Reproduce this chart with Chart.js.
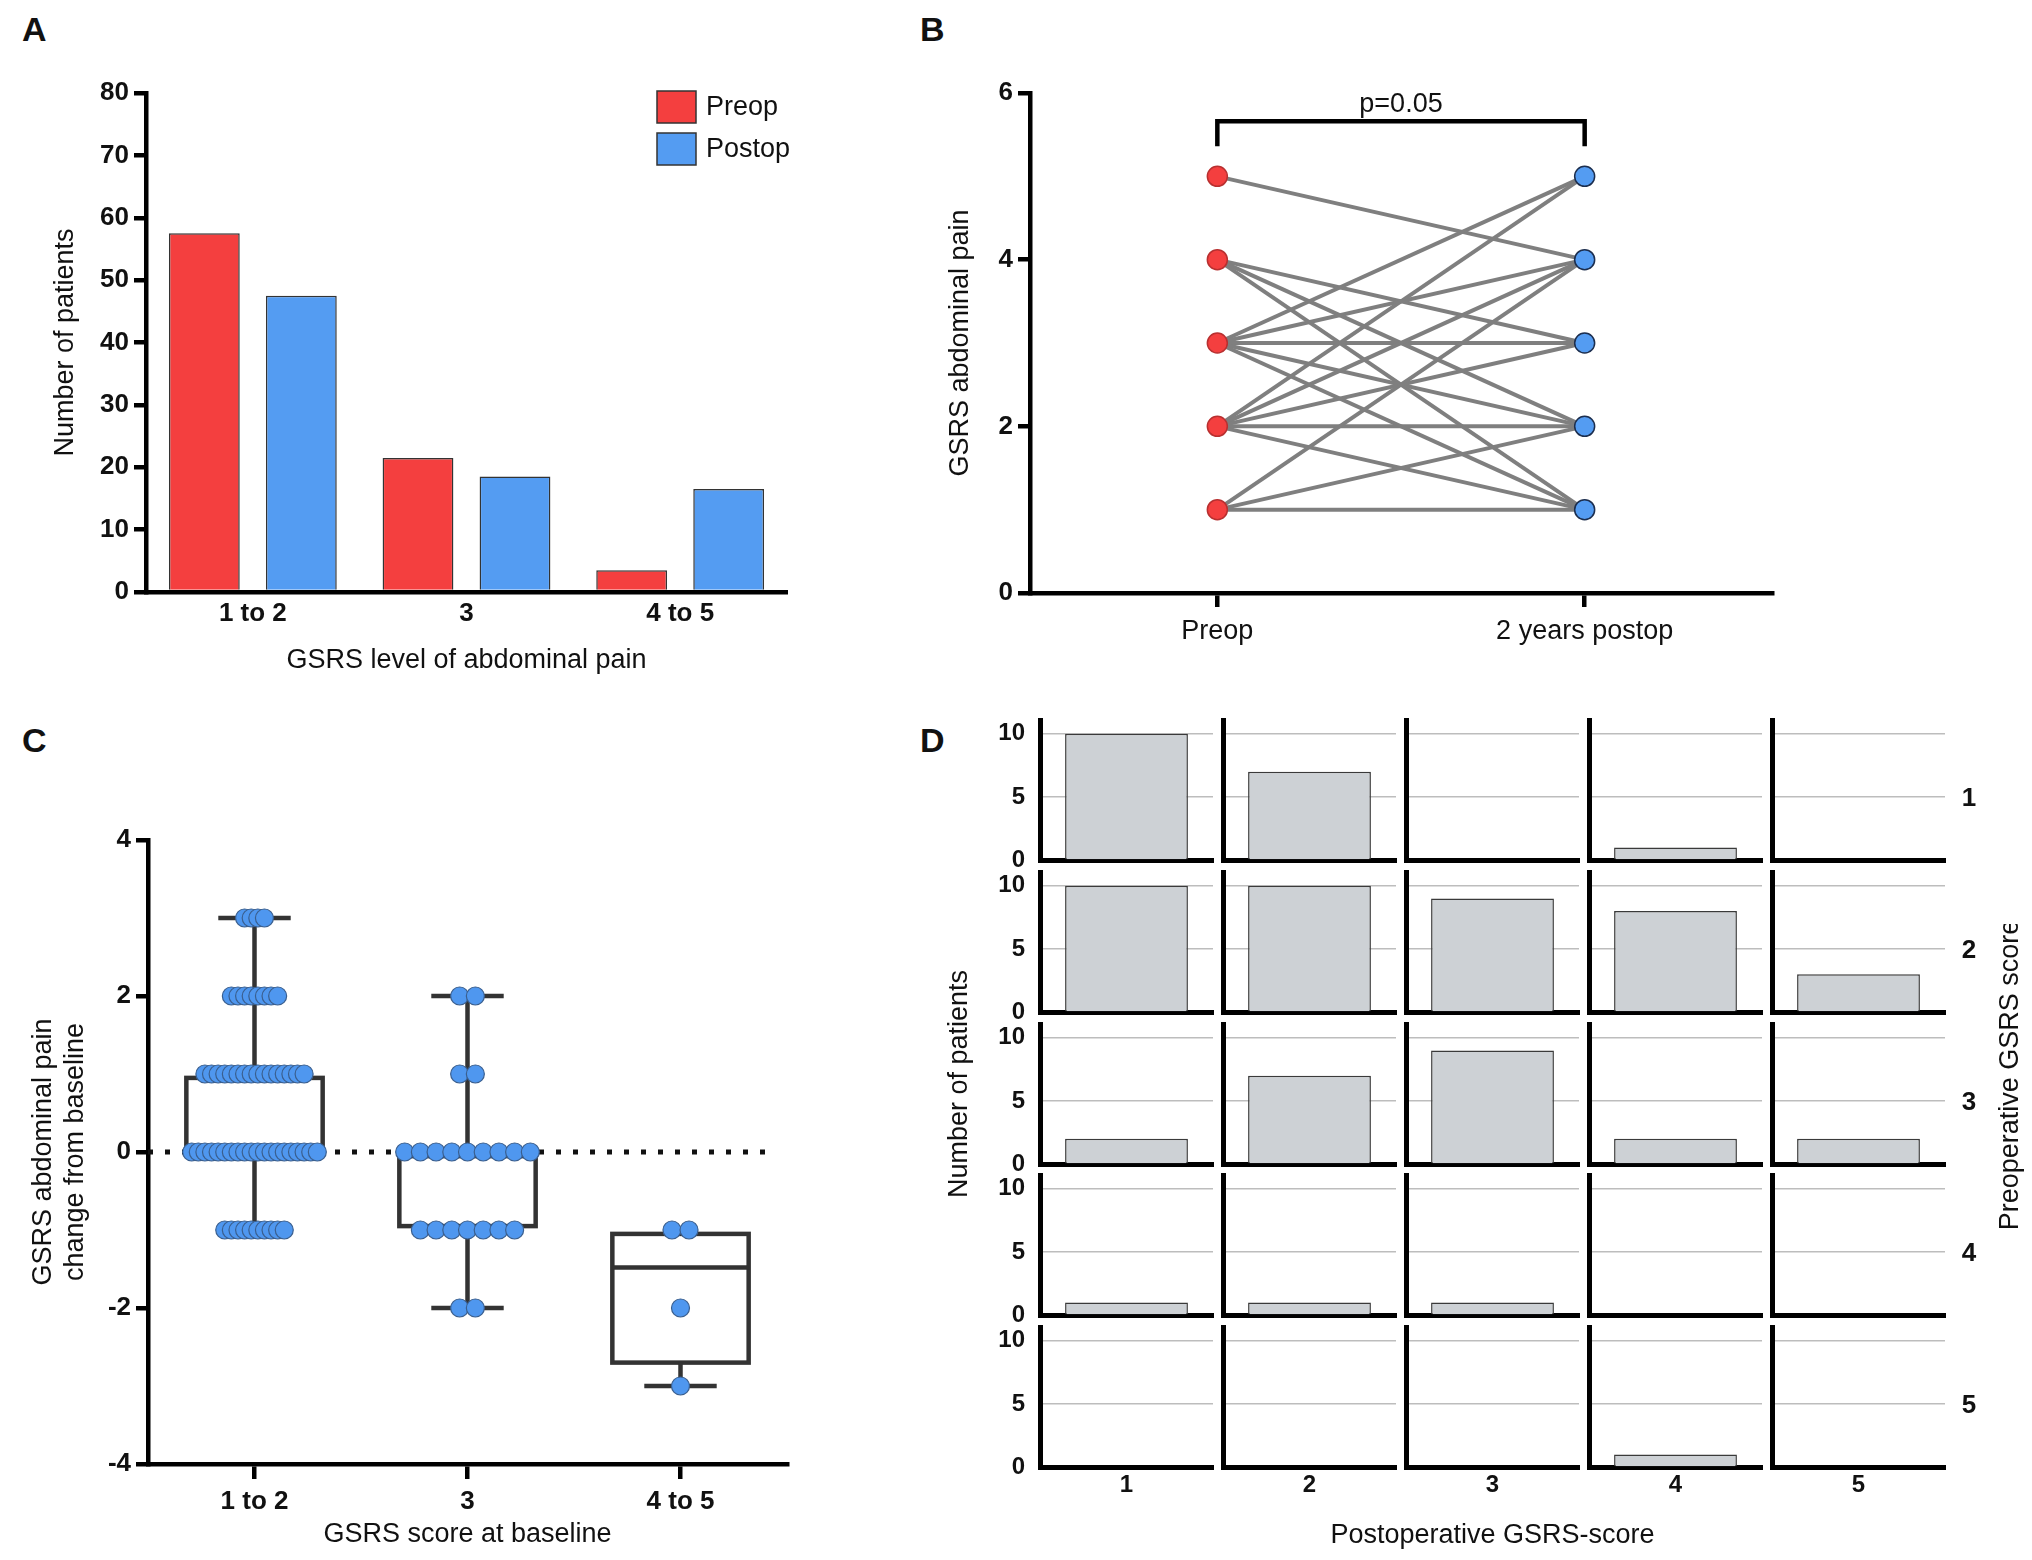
<!DOCTYPE html>
<html>
<head>
<meta charset="utf-8">
<script src="https://cdn.jsdelivr.net/npm/chart.js@4.4.1/dist/chart.umd.min.js"></script>
<style>
  body { margin: 0; background: #fff; width: 2032px; height: 1560px; position: relative; overflow: hidden;
         font-family: 'Liberation Sans', Arial, sans-serif; }
  .letter { position: absolute; font-weight: bold; font-size: 34px; line-height: 1; color: #111; }
  canvas { position: absolute; }
</style>
</head>
<body>
<div class="letter" style="left:22px;top:12px">A</div>
<div class="letter" style="left:920px;top:12px">B</div>
<div class="letter" style="left:22px;top:723px">C</div>
<div class="letter" style="left:920px;top:723px">D</div>
<script>
// ---------- data ----------
// A: patients per GSRS level
const levelCategories = ['1 to 2', '3', '4 to 5'];
const preopCounts = [57.5, 21.5, 3.5];
const postopCounts = [47.5, 18.5, 16.5];

// B: paired scores
const timepoints = ['Preop', '2 years postop'];
const pText = 'p=0.05';
const bracketLow = 5.36, bracketHigh = 5.66, pLevel = 5.86;

// C: change from baseline
const baselineGroups = ['1 to 2', '3', '4 to 5'];
const changeLevels = [3, 2, 1, 0, -1, -2, -3];
const changeCounts12 = [4, 8, 16, 20, 10, 0, 0];
const changeCounts3 = [0, 2, 2, 9, 7, 2, 0];
const changeCounts45 = [0, 0, 0, 0, 2, 1, 1];
const boxLow = [-1, -2, -3];
const boxQ1 = [0, -0.95, -2.7];
const boxMedian = [0, -0.05, -1.48];
const boxQ3 = [0.95, -0.05, -1.05];
const boxHigh = [3, 2, -1];
const zeroLineEnd = 2.44;

// D: postop score counts, one array per preop score
const postopScores = ['1', '2', '3', '4', '5'];
const preopScores = ['1', '2', '3', '4', '5'];
const fromPreop1 = [10, 7, 0, 1, 0];
const fromPreop2 = [10, 10, 9, 8, 3];
const fromPreop3 = [2, 7, 9, 2, 2];
const fromPreop4 = [1, 1, 1, 0, 0];
const fromPreop5 = [0, 0, 0, 1, 0];
const countsByPreop = [fromPreop1, fromPreop2, fromPreop3, fromPreop4, fromPreop5];

// ---------- setup ----------
const FONT = "'Liberation Sans', Arial, sans-serif";
Chart.defaults.font.family = FONT;
Chart.defaults.color = '#111';
Chart.defaults.animation = false;
Chart.defaults.events = [];
Chart.defaults.plugins.legend.display = false;
Chart.defaults.plugins.tooltip.enabled = false;

const RED = '#f43f3f', BLUE = '#549cf2', AXIS = 4.5;
const tickFont = {size: 26, weight: 'bold'};
const titleFont = {size: 27};

function addCanvas(left, top, w, h){
  const c = document.createElement('canvas');
  c.width = w; c.height = h;
  c.style.left = left + 'px'; c.style.top = top + 'px';
  c.style.width = w + 'px'; c.style.height = h + 'px';
  document.body.appendChild(c);
  return c;
}
const fixWidth = w => s => { s.width = w; };
const fixHeight = h => s => { s.height = h; };
const border = {display: true, color: '#000', width: AXIS};

// ---------- A ----------
const legendInside = {
  id: 'legendInside',
  afterDraw(chart){
    const {ctx, chartArea} = chart;
    ctx.save();
    chart.data.datasets.forEach((ds, i) => {
      const x = chartArea.right - 130, y = chartArea.top - 2 + i * 42;
      ctx.fillStyle = ds.backgroundColor;
      ctx.fillRect(x, y, 39, 32);
      ctx.strokeStyle = ds.borderColor; ctx.lineWidth = 1.5;
      ctx.strokeRect(x, y, 39, 32);
      ctx.fillStyle = '#111'; ctx.font = '27px ' + FONT; ctx.textBaseline = 'middle';
      ctx.fillText(ds.label, x + 49, y + 17);
    });
    ctx.restore();
  }
};

new Chart(addCanvas(0, 0, 830, 700), {
  type: 'bar',
  data: {
    labels: levelCategories,
    datasets: [
      {label: 'Preop', data: preopCounts, backgroundColor: RED, borderColor: '#333', borderWidth: 1.5},
      {label: 'Postop', data: postopCounts, backgroundColor: BLUE, borderColor: '#333', borderWidth: 1.5}
    ]
  },
  plugins: [legendInside],
  options: {
    responsive: false,
    barPercentage: 0.73,
    categoryPercentage: 0.908,
    layout: {padding: {left: 40, top: 93, right: 43, bottom: 13}},
    scales: {
      x: {
        afterFit: fixHeight(95),
        grid: {display: true, drawOnChartArea: false, drawTicks: false},
        border: border,
        ticks: {font: tickFont, padding: 6},
        title: {display: true, text: 'GSRS level of abdominal pain', font: titleFont, padding: {top: 0, bottom: 10}}
      },
      y: {
        min: 0, max: 80,
        afterFit: fixWidth(106),
        grid: {drawOnChartArea: false, drawTicks: true, tickLength: 12, color: '#000', lineWidth: AXIS},
        border: border,
        ticks: {stepSize: 10, font: tickFont, padding: 5},
        title: {display: true, text: 'Number of patients', font: titleFont, padding: {top: 9, bottom: 0}}
      }
    }
  }
});

// ---------- B ----------
const pairs = [];
countsByPreop.forEach((row, i) => row.forEach((n, j) => { if (n > 0) pairs.push([i + 1, j + 1]); }));
const preopLevels = [...new Set(pairs.map(p => p[0]))];
const postopLevels = [...new Set(pairs.map(p => p[1]))];

const pValuePlugin = {
  id: 'pValue',
  afterDatasetsDraw(chart){
    const {ctx, scales: {x, y}} = chart;
    ctx.save();
    ctx.font = '27px ' + FONT; ctx.fillStyle = '#111';
    ctx.textAlign = 'center'; ctx.textBaseline = 'middle';
    ctx.fillText(pText, (x.getPixelForValue(0) + x.getPixelForValue(1)) / 2, y.getPixelForValue(pLevel));
    ctx.restore();
  }
};

new Chart(addCanvas(880, 0, 1000, 700), {
  type: 'scatter',
  data: {
    datasets: pairs.map(p => ({
      data: [{x: 0, y: p[0]}, {x: 1, y: p[1]}],
      showLine: true, borderColor: '#7f7f7f', borderWidth: 4, pointRadius: 0, order: 2
    })).concat([
      {data: preopLevels.map(v => ({x: 0, y: v})), pointRadius: 10, backgroundColor: RED,
       borderColor: '#b83030', borderWidth: 1.5, order: 0},
      {data: postopLevels.map(v => ({x: 1, y: v})), pointRadius: 10, backgroundColor: BLUE,
       borderColor: '#1c2e4e', borderWidth: 1.5, order: 0},
      {data: [{x: 0, y: bracketLow}, {x: 0, y: bracketHigh}, {x: 1, y: bracketHigh}, {x: 1, y: bracketLow}],
       showLine: true, borderColor: '#000', borderWidth: AXIS, pointRadius: 0, borderJoinStyle: 'miter', order: 1}
    ])
  },
  plugins: [pValuePlugin],
  options: {
    responsive: false,
    layout: {padding: {left: 55, top: 93, right: 108, bottom: 7}},
    scales: {
      x: {
        type: 'linear', min: -0.51, max: 1.51,
        afterFit: fixHeight(100),
        afterBuildTicks: s => { s.ticks = timepoints.map((t, i) => ({value: i})); },
        grid: {drawOnChartArea: false, drawTicks: true, tickLength: 14, color: '#000', lineWidth: AXIS},
        border: border,
        ticks: {font: {size: 27}, padding: 8, callback: v => timepoints[v]}
      },
      y: {
        min: 0, max: 6,
        afterFit: fixWidth(95),
        grid: {drawOnChartArea: false, drawTicks: true, tickLength: 12, color: '#000', lineWidth: AXIS},
        border: border,
        ticks: {stepSize: 2, font: tickFont, padding: 5},
        title: {display: true, text: 'GSRS abdominal pain', font: titleFont, padding: {top: 9, bottom: 0}}
      }
    }
  }
});

// ---------- C ----------
function swarm(group, counts){
  const maxN = Math.max(...counts);
  const step = Math.min(0.08, 0.59 / Math.max(maxN - 1, 1));
  const pts = [];
  counts.forEach((n, k) => {
    for (let i = 0; i < n; i++) pts.push({x: group + (i - (n - 1) / 2) * step, y: changeLevels[k]});
  });
  return pts;
}

const boxPlotPlugin = {
  id: 'boxPlot',
  beforeDatasetsDraw(chart){
    const {ctx, scales: {x, y}} = chart;
    const half = 0.32, cap = 0.17;
    ctx.save();
    ctx.strokeStyle = '#333'; ctx.lineWidth = AXIS; ctx.lineCap = 'butt';
    baselineGroups.forEach((g, i) => {
      const xl = x.getPixelForValue(i - half), xr = x.getPixelForValue(i + half), xc = x.getPixelForValue(i);
      const yq1 = y.getPixelForValue(boxQ1[i]), yq3 = y.getPixelForValue(boxQ3[i]);
      ctx.strokeRect(xl, yq3, xr - xl, yq1 - yq3);
      ctx.beginPath();
      ctx.moveTo(xl, y.getPixelForValue(boxMedian[i])); ctx.lineTo(xr, y.getPixelForValue(boxMedian[i]));
      if (boxHigh[i] > boxQ3[i] + 0.1) {
        const yh = y.getPixelForValue(boxHigh[i]);
        ctx.moveTo(xc, yq3); ctx.lineTo(xc, yh);
        ctx.moveTo(x.getPixelForValue(i - cap), yh); ctx.lineTo(x.getPixelForValue(i + cap), yh);
      }
      if (boxLow[i] < boxQ1[i] - 0.1) {
        const yl = y.getPixelForValue(boxLow[i]);
        ctx.moveTo(xc, yq1); ctx.lineTo(xc, yl);
        ctx.moveTo(x.getPixelForValue(i - cap), yl); ctx.lineTo(x.getPixelForValue(i + cap), yl);
      }
      ctx.stroke();
    });
    ctx.restore();
  }
};

new Chart(addCanvas(0, 700, 830, 860), {
  type: 'scatter',
  data: {
    datasets: [
      {data: swarm(0, changeCounts12).concat(swarm(1, changeCounts3), swarm(2, changeCounts45)),
       pointRadius: 9, backgroundColor: '#4f97ef', borderColor: '#3a5f8f', borderWidth: 1.2, order: 0},
      {data: [{x: -0.5, y: 0}, {x: zeroLineEnd, y: 0}], showLine: true, borderDash: [5, 12],
       borderWidth: 5, borderColor: '#111', pointRadius: 0, order: 1}
    ]
  },
  plugins: [boxPlotPlugin],
  options: {
    responsive: false,
    layout: {padding: {left: 20, top: 140, right: 43, bottom: 0}},
    scales: {
      x: {
        type: 'linear', min: -0.5, max: 2.5,
        afterFit: fixHeight(96),
        afterBuildTicks: s => { s.ticks = baselineGroups.map((g, i) => ({value: i})); },
        grid: {drawOnChartArea: false, drawTicks: true, tickLength: 15, color: '#000', lineWidth: AXIS},
        border: border,
        ticks: {font: tickFont, padding: 7, callback: v => baselineGroups[v]},
        title: {display: true, text: 'GSRS score at baseline', font: titleFont, padding: {top: 0, bottom: 9}}
      },
      y: {
        min: -4, max: 4,
        afterFit: fixWidth(128),
        grid: {drawOnChartArea: false, drawTicks: true, tickLength: 12, color: '#000', lineWidth: AXIS},
        border: border,
        ticks: {stepSize: 2, font: tickFont, padding: 5},
        title: {display: true, text: ['GSRS abdominal pain', 'change from baseline'], font: titleFont,
                padding: {top: 7, bottom: 0}}
      }
    }
  }
});

// ---------- D ----------
// texts around the grid of small panels, placed from each panel's chart area
const cellTextPlugin = {
  id: 'cellText',
  afterDraw(chart, args, opts){
    const {ctx, chartArea} = chart;
    const cx = (chartArea.left + chartArea.right) / 2;
    const cy = (chartArea.top + chartArea.bottom) / 2;
    ctx.save();
    ctx.fillStyle = '#111'; ctx.textAlign = 'center'; ctx.textBaseline = 'middle';
    if (opts.rowLabel) {
      ctx.font = 'bold 26px ' + FONT;
      ctx.fillText(opts.rowLabel, chartArea.right + 24, cy + 9);
    }
    ctx.font = '27px ' + FONT;
    if (opts.bottomTitle) ctx.fillText(opts.bottomTitle, cx, chartArea.bottom + 69);
    if (opts.rightTitle) {
      ctx.save();
      ctx.translate(chartArea.right + 66, cy - 19);
      ctx.rotate(-Math.PI / 2);
      ctx.fillText(opts.rightTitle, 0, 0);
      ctx.restore();
    }
    if (opts.leftTitle) {
      ctx.save();
      ctx.translate(chartArea.left - 80, cy - 10);
      ctx.rotate(-Math.PI / 2);
      ctx.fillText(opts.leftTitle, 0, 0);
      ctx.restore();
    }
    ctx.restore();
  }
};

const cellTop = 100;
countsByPreop.forEach((row, r) => {
  row.forEach((n, c) => {
    const areaLeft = 1040 + 183 * c, areaBottom = 860 + 151.8 * r;
    // extra room on the right for the row labels and for the wide bottom title
    const padR = c === 4 ? 87 : (r === 4 && c === 2 ? 120 : 6);
    new Chart(addCanvas(areaLeft - 100, areaBottom - 140 - cellTop, 100 + 173 + padR, cellTop + 140 + 95), {
      type: 'bar',
      data: {
        labels: [postopScores[c]],
        datasets: [{data: [n], backgroundColor: '#cdd1d5', borderColor: '#3a3a3a', borderWidth: 1.5}]
      },
      plugins: [cellTextPlugin],
      options: {
        responsive: false,
        barPercentage: 0.71,
        categoryPercentage: 1,
        layout: {padding: {left: 0, top: cellTop, right: padR, bottom: 0}},
        plugins: {
          cellText: {
            rowLabel: c === 4 ? preopScores[r] : null,
            rightTitle: (c === 4 && r === 2) ? 'Preoperative GSRS score' : null,
            leftTitle: (c === 0 && r === 2) ? 'Number of patients' : null,
            bottomTitle: (c === 2 && r === 4) ? 'Postoperative GSRS-score' : null
          }
        },
        scales: {
          x: {
            afterFit: fixHeight(95),
            grid: {display: true, drawOnChartArea: false, drawTicks: false},
            border: {display: true, color: '#000', width: 5},
            ticks: {display: r === 4, font: {size: 24, weight: 'bold'}, padding: 4}
          },
          y: {
            min: 0, max: 11.1,
            afterFit: fixWidth(100),
            grid: {drawTicks: false, lineWidth: 1.5,
                   color: ctx => (ctx.tick && ctx.tick.value === 0) ? 'rgba(0,0,0,0)' : '#bdbdbd'},
            border: {display: true, color: '#000', width: 5},
            ticks: {display: c === 0, stepSize: 5, includeBounds: false, font: {size: 24, weight: 'bold'}, padding: 15}
          }
        }
      }
    });
  });
});
</script>
</body>
</html>
